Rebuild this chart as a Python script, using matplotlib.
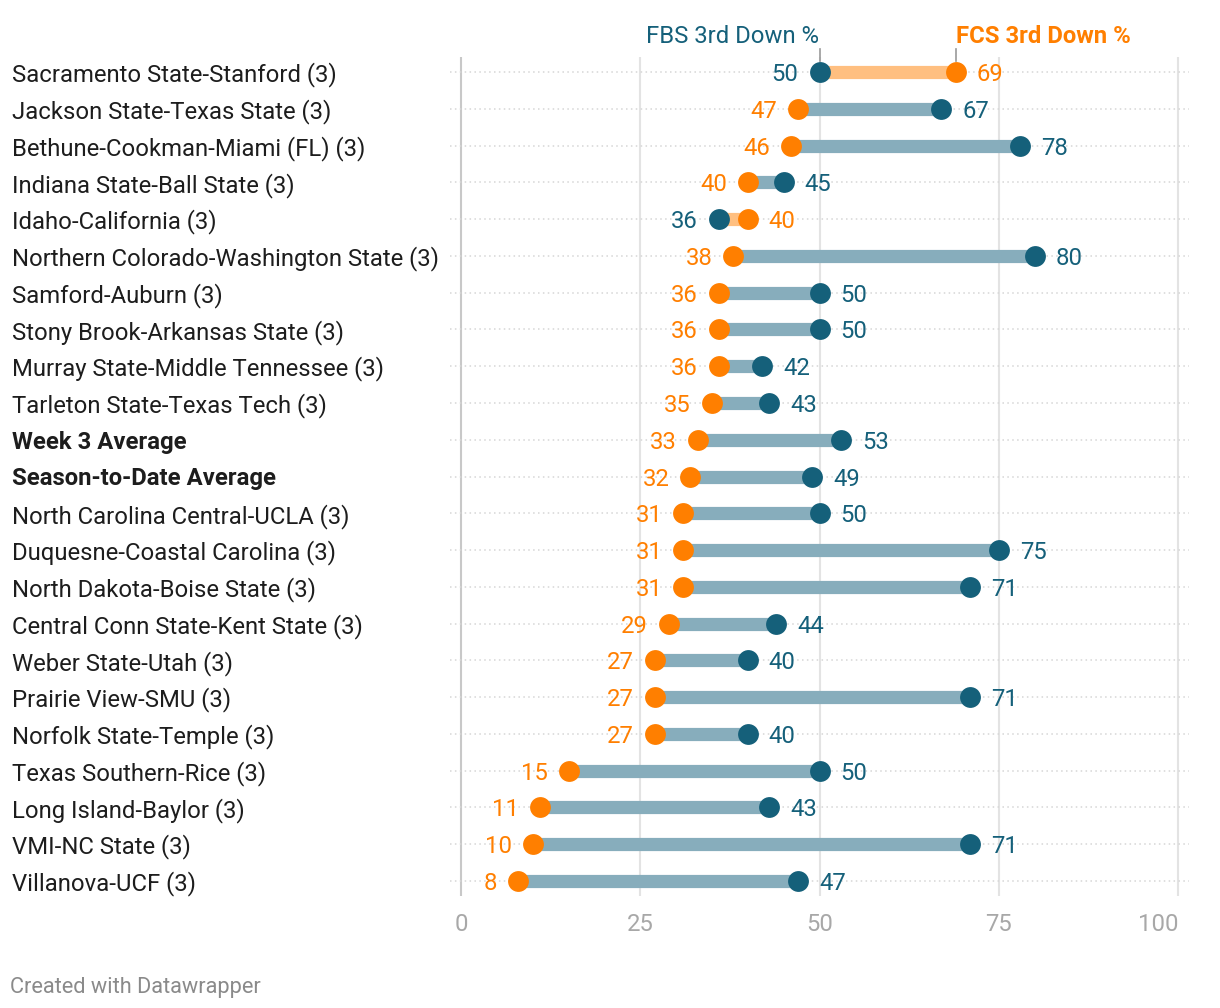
import matplotlib
matplotlib.use("Agg")
import matplotlib.pyplot as plt

plt.rcParams['font.family'] = ['Roboto', 'DejaVu Sans']

labels = [
    "Sacramento State-Stanford (3)", "Jackson State-Texas State (3)",
    "Bethune-Cookman-Miami (FL) (3)", "Indiana State-Ball State (3)",
    "Idaho-California (3)", "Northern Colorado-Washington State (3)",
    "Samford-Auburn (3)", "Stony Brook-Arkansas State (3)",
    "Murray State-Middle Tennessee (3)", "Tarleton State-Texas Tech (3)",
    "Week 3 Average", "Season-to-Date Average",
    "North Carolina Central-UCLA (3)", "Duquesne-Coastal Carolina (3)",
    "North Dakota-Boise State (3)", "Central Conn State-Kent State (3)",
    "Weber State-Utah (3)", "Prairie View-SMU (3)", "Norfolk State-Temple (3)",
    "Texas Southern-Rice (3)", "Long Island-Baylor (3)", "VMI-NC State (3)",
    "Villanova-UCF (3)",
]
fbs = [50, 67, 78, 45, 36, 80, 50, 50, 42, 43, 53, 49, 50, 75, 71, 44, 40, 71, 40, 50, 43, 71, 47]
fcs = [69, 47, 46, 40, 40, 38, 36, 36, 36, 35, 33, 32, 31, 31, 31, 29, 27, 27, 27, 15, 11, 10, 8]
bold_rows = ["Week 3 Average", "Season-to-Date Average"]
xticks = [0, 25, 50, 75, 100]

FBS_C = "#15607a"
FCS_C = "#ff7f00"
FBS_BAR = "#87adbc"
FCS_BAR = "#ffbf80"
FS = 17.2

W, H = 1220, 1008
fig = plt.figure(figsize=(W / 100, H / 100), dpi=100)

x0px, x100px = 461, 1178
ppu = (x100px - x0px) / 100
xl, xr = -1.6, 101.5
left = (x0px + xl * ppu) / W
width = (xr - xl) * ppu / W
y_first, y_last = 72, 881
n = len(labels)
sp = (y_last - y_first) / (n - 1)
top_px = y_first - 0.4 * sp
bot_px = y_last + 0.4 * sp
ax = fig.add_axes([left, 1 - bot_px / H, width, (bot_px - top_px) / H])
ax.set_xlim(xl, xr)
ax.set_ylim(n - 1 + 0.4, -0.4)
ax.axis('off')


def ypx(p):
    return -0.4 + (p - top_px) / sp


# vertical gridlines
for k, t in enumerate(xticks):
    ax.axvline(t, color="#c8c8c8" if t == 0 else "#e3e3e3", lw=1.5, zorder=0)
    ax.text(t, ypx(922), str(t), ha='right' if k == len(xticks) - 1 else 'center',
            va='center_baseline', fontsize=FS, color="#a8a8a8", clip_on=False)

for i, (lab, a, b) in enumerate(zip(labels, fbs, fcs)):
    ax.plot([xl, xr], [i, i], color="#d6d6d6", lw=1.1, ls=(0, (1, 2.2)), zorder=1)
    barc = FBS_BAR if a > b else FCS_BAR
    ax.plot([min(a, b), max(a, b)], [i, i], color=barc, lw=9.5,
            solid_capstyle='butt', zorder=2)
    ax.plot([b], [i], 'o', color=FCS_C, ms=15, mec='none', zorder=3)
    ax.plot([a], [i], 'o', color=FBS_C, ms=15, mec='none', zorder=4)
    off = 21 / ppu
    if a >= b:
        hi, hic, lo, loc = a, FBS_C, b, FCS_C
    else:
        hi, hic, lo, loc = b, FCS_C, a, FBS_C
    ax.text(hi + off, i, str(hi), ha='left', va='center_baseline', fontsize=FS, color=hic)
    ax.text(lo - off, i, str(lo), ha='right', va='center_baseline', fontsize=FS, color=loc)
    ax.text(12 / W, 1 - (y_first + i * sp) / H, lab, transform=fig.transFigure,
            ha='left', va='center_baseline', fontsize=FS, color="#1d1d1d",
            fontweight='bold' if lab in bold_rows else 'normal')

# headers
for v in (fbs[0], fcs[0]):
    ax.plot([v, v], [ypx(48.6), ypx(60.7)], color="#999999", lw=1.2, clip_on=False)
hy = ypx(34)
ax.text(fbs[0], hy, "FBS 3rd Down %", ha='right', va='center_baseline',
        fontsize=FS, color=FBS_C, clip_on=False)
ax.text(fcs[0], hy, "FCS 3rd Down %", ha='left', va='center_baseline',
        fontsize=FS, color=FCS_C, fontweight='bold', clip_on=False)

fig.text(10 / W, 1 - 985 / H, "Created with Datawrapper", ha='left', va='center_baseline',
         fontsize=15.7, color="#8a8a8a")

fig.savefig("out.png", dpi=100, facecolor='white')
